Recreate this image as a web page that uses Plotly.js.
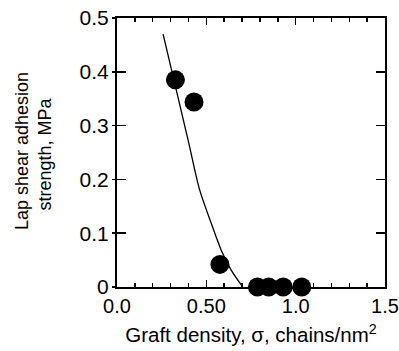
<!DOCTYPE html>
<html>
<head>
<meta charset="utf-8">
<script src="https://cdn.plot.ly/plotly-3.0.1.min.js"></script>
<style>html,body{margin:0;padding:0;background:#fff;} #chart{width:399px;height:351px;}</style>
</head>
<body>
<div id="chart"></div>
<script>
// Measured data points (graft density vs lap shear adhesion strength)
const pointX = [0.327, 0.431, 0.576, 0.786, 0.849, 0.930, 1.034];
const pointY = [0.385, 0.344, 0.042, 0.0, 0.0, 0.0, 0.0];

// Guide curve
const curveX = [0.258, 0.398, 0.463, 0.528, 0.584, 0.640, 0.704];
const curveY = [0.470, 0.273, 0.180, 0.118, 0.068, 0.031, 0.0];

// Tick labels
const xTickVals = [0, 0.5, 1.0, 1.5];
const xTickText = ["0.0", "0.50", "1.0", "1.5"];
const yTickVals = [0, 0.1, 0.2, 0.3, 0.4, 0.5];
const yTickText = ["0", "0.1", "0.2", "0.3", "0.4", "0.5"];

const xTitle = "Graft density, σ, chains/nm<sup>2</sup>";
const yTitleLine1 = "Lap shear adhesion";
const yTitleLine2 = "strength, MPa";

const FONT = "Liberation Sans, Arial, sans-serif";

const traces = [
  {
    x: curveX, y: curveY, type: "scatter", mode: "lines",
    line: {color: "#000", width: 1.3, shape: "spline", smoothing: 0.8},
    hoverinfo: "skip", showlegend: false, cliponaxis: false
  },
  {
    x: pointX, y: pointY, type: "scatter", mode: "markers",
    marker: {color: "#000", size: 19, line: {width: 0}},
    showlegend: false, cliponaxis: false
  },
  {
    x: [null], y: [null], xaxis: "x", yaxis: "y2", type: "scatter", mode: "markers",
    showlegend: false, hoverinfo: "skip"
  }
];

const layout = {
  width: 399, height: 351,
  margin: {l: 117, r: 14, t: 18, b: 64},
  paper_bgcolor: "#fff", plot_bgcolor: "#fff",
  font: {family: FONT, size: 19, color: "#000"},
  showlegend: false,
  xaxis: {
    range: [0, 1.5], tickvals: xTickVals, ticktext: xTickText,
    ticks: "inside", ticklen: 7, tickwidth: 1.5, tickcolor: "#000",
    minor: {dtick: 0.1, tick0: 0, ticks: "inside", ticklen: 4, tickwidth: 1.5, tickcolor: "#000"},
    showline: true, linecolor: "#000", linewidth: 2, mirror: "ticks",
    showgrid: false, zeroline: false, ticklabeloverflow: "allow",
    tickfont: {family: FONT, size: 20, color: "#000"},
    title: {text: xTitle, font: {family: FONT, size: 20.5, color: "#000"}, standoff: 12}
  },
  yaxis: {
    range: [0, 0.5], tickvals: yTickVals, ticktext: yTickText,
    ticks: "inside", ticklen: 9, tickwidth: 1.5, tickcolor: "#000",
    showline: true, linecolor: "#000", linewidth: 2, mirror: "ticks",
    showgrid: false, zeroline: false, ticklabelstandoff: 2,
    tickfont: {family: FONT, size: 21, color: "#000"}
  },
  yaxis2: {
    range: [0, 0.5], overlaying: "y", side: "left", tickvals: yTickVals,
    ticks: "outside", ticklen: 4, tickwidth: 1.5, tickcolor: "#000",
    showticklabels: false, showline: false, showgrid: false, zeroline: false
  },
  annotations: [
    {text: yTitleLine1, xref: "paper", yref: "paper", x: -0.355, y: 0.505,
     xanchor: "center", yanchor: "middle", textangle: -90, showarrow: false,
     font: {family: FONT, size: 18, color: "#000"}},
    {text: yTitleLine2, xref: "paper", yref: "paper", x: -0.27, y: 0.495,
     xanchor: "center", yanchor: "middle", textangle: -90, showarrow: false,
     font: {family: FONT, size: 18, color: "#000"}}
  ]
};

Plotly.newPlot("chart", traces, layout, {displayModeBar: false, staticPlot: true});
</script>
</body>
</html>
